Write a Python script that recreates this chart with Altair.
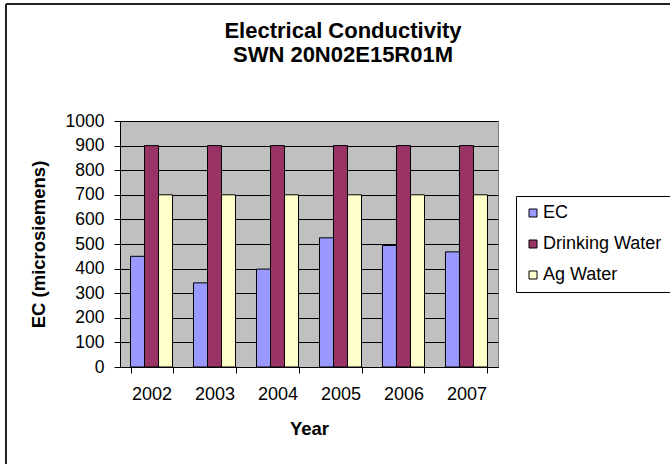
import altair as alt
import pandas as pd

# Yearly conductivity readings and the two reference limits
years = ["2002", "2003", "2004", "2005", "2006", "2007"]
ec_values = [450, 342, 398, 525, 494, 468]
drinking_water = [900, 900, 900, 900, 900, 900]
ag_water = [700, 700, 700, 700, 700, 700]

series_names = ["EC", "Drinking Water", "Ag Water"]
series_colors = ["#9999FF", "#993366", "#FFFFCC"]

rows = []
for i, yr in enumerate(years):
    rows.append({"Year": yr, "Series": "EC", "Value": ec_values[i]})
    rows.append({"Year": yr, "Series": "Drinking Water", "Value": drinking_water[i]})
    rows.append({"Year": yr, "Series": "Ag Water", "Value": ag_water[i]})
df = pd.DataFrame(rows)

FONT = "Liberation Sans"

bars = alt.Chart(df).mark_bar(stroke="black", strokeWidth=1).encode(
    x=alt.X(
        "Year:N",
        sort=years,
        scale=alt.Scale(paddingInner=0.333, paddingOuter=0.167),
        axis=alt.Axis(
            title="Year",
            labelAngle=0,
            labelFontSize=18,
            labelPadding=12,
            labelColor="black",
            titleFontSize=18.5,
            titleFontWeight="bold",
            titlePadding=16,
            titleColor="black",
            tickSize=6,
            tickColor="black",
            tickBand="extent",
            domainColor="black",
            grid=False,
        ),
    ),
    xOffset=alt.XOffset("Series:N", sort=series_names, scale=alt.Scale(paddingInner=0, paddingOuter=0)),
    y=alt.Y(
        "Value:Q",
        scale=alt.Scale(domain=[0, 1000], nice=False),
        axis=alt.Axis(
            title="EC (microsiemens)",
            values=list(range(0, 1001, 100)),
            format="d",
            labelFontSize=17.5,
            labelPadding=10,
            labelColor="black",
            titleFontSize=18.5,
            titleFontWeight="bold",
            titlePadding=17,
            titleColor="black",
            tickSize=6,
            tickColor="black",
            domainColor="black",
            grid=True,
            gridColor="black",
            gridWidth=1,
        ),
    ),
    color=alt.Color(
        "Series:N",
        sort=series_names,
        scale=alt.Scale(domain=series_names, range=series_colors),
        legend=alt.Legend(
            title=None,
            orient="none",
            legendX=396,
            legendY=75,
            symbolType="square",
            symbolSize=64,
            symbolStrokeColor="black",
            symbolStrokeWidth=1,
            symbolOpacity=1,
            labelFontSize=18,
            labelColor="black",
            labelOffset=1,
            rowPadding=13,
            padding=8,
            strokeColor="black",
            fillColor="white",
        ),
    ),
)

# Outer chart frame (top and left edges)
frame_top = alt.Chart(df).mark_rule(color="#222222", strokeWidth=1.5).encode(
    x=alt.value(-114), x2=alt.value(560), y=alt.value(-117)
)
frame_left = alt.Chart(df).mark_rule(color="#222222", strokeWidth=1.5).encode(
    x=alt.value(-114), y=alt.value(-117), y2=alt.value(360)
)

chart = (
    alt.layer(frame_top, frame_left, bars)
    .properties(
        width=378,
        height=246,
        autosize=alt.AutoSizeParams(type="none"),
        padding={"left": 120, "top": 121, "right": 172, "bottom": 97},
        background="white",
        title=alt.TitleParams(
            text=["Electrical Conductivity", "SWN 20N02E15R01M"],
            fontSize=22,
            fontWeight="bold",
            font=FONT,
            color="black",
            anchor="middle",
            frame="group",
            dx=34,
            offset=-64,
            lineHeight=24,
        ),
    )
    .configure(font=FONT)
    .configure_view(fill="#C0C0C0", stroke="#808080", strokeWidth=1)
)

chart.save("out.html", embed_options={"renderer": "svg", "actions": False})
